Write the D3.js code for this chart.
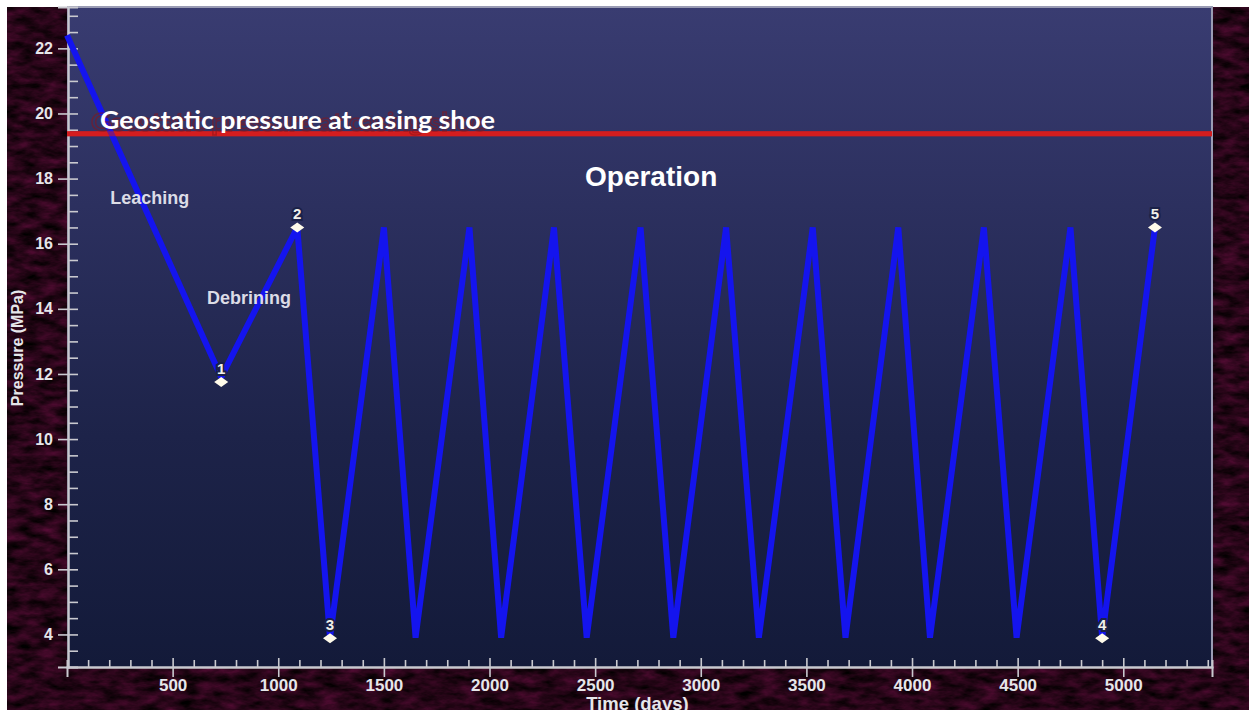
<!DOCTYPE html>
<html><head><meta charset="utf-8">
<script src="https://cdn.jsdelivr.net/npm/d3@7/dist/d3.min.js"></script>
<style>
html,body{margin:0;padding:0;background:#fff;overflow:hidden}
svg{display:block}
text{font-family:"Liberation Sans",Arial,sans-serif;font-weight:bold}
</style></head><body>
<svg id="chart" width="1249" height="710"></svg>
<script>
// Cavern pressure history: leaching, debrining, then cyclic gas operation
const timeDays = [0, 730, 1090, 1245, 1500, 1650, 1905, 2055, 2305, 2460, 2715, 2870,
  3120, 3275, 3530, 3685, 3935, 4085, 4340, 4495, 4750, 4900, 5150];
const pressureMPa = [22.4, 11.9, 16.5, 3.9, 16.5, 3.9, 16.5, 3.9, 16.5, 3.9, 16.5, 3.9,
  16.5, 3.9, 16.5, 3.9, 16.5, 3.9, 16.5, 3.9, 16.5, 3.9, 16.5];

// numbered stage markers
const markerLabels = ["1", "2", "3", "4", "5"];
const markerDays = [730, 1090, 1245, 4900, 5150];
const markerPressure = [11.75, 16.5, 3.88, 3.88, 16.5];

const geostaticPressure = 19.38;
const geostaticLabel = "Geostatic pressure at casing shoe";
const phaseLabels = ["Leaching", "Debrining", "Operation"];

const xMajorTicks = [500, 1000, 1500, 2000, 2500, 3000, 3500, 4000, 4500, 5000];
const yMajorTicks = [4, 6, 8, 10, 12, 14, 16, 18, 20, 22];
const xTitle = "Time (days)";
const yTitle = "Pressure (MPa)";

const W = 1249, H = 710;
const plot = {left: 67, right: 1212, top: 7, bottom: 667};

const svg = d3.select("#chart");
const defs = svg.append("defs");

// mottled dark maroon backdrop
const f = defs.append("filter").attr("id", "grain")
  .attr("x", 0).attr("y", 0).attr("width", "100%").attr("height", "100%")
  .attr("color-interpolation-filters", "sRGB");
f.append("feTurbulence").attr("type", "fractalNoise")
  .attr("baseFrequency", "0.05 0.12").attr("numOctaves", 4).attr("seed", 7);
f.append("feColorMatrix").attr("type", "matrix")
  .attr("values", "0.42 0 0 0 -0.06  0.06 0 0 0 -0.01  0.27 0 0 0 -0.045  0 0 0 0 1");

const grad = defs.append("linearGradient").attr("id", "plotBg")
  .attr("x1", 0).attr("y1", 0).attr("x2", 0).attr("y2", 1);
[[0, "#393c71"], [0.3, "#2c305f"], [0.65, "#1d2349"], [1, "#131a39"]]
  .forEach(([o, c]) => grad.append("stop").attr("offset", o).attr("stop-color", c));

svg.append("rect").attr("width", W).attr("height", H).attr("fill", "#ffffff");
svg.append("rect").attr("x", 7).attr("y", 7).attr("width", W - 7).attr("height", H - 7)
  .attr("fill", "#2a0a1c").attr("filter", "url(#grain)");

const x = d3.scaleLinear().domain([0, 5420]).range([plot.left, plot.right]);
const y = d3.scaleLinear().domain([3, 23.27]).range([plot.bottom, plot.top]);

svg.append("rect")
  .attr("x", x(0)).attr("y", y(23.27))
  .attr("width", x(5420) - x(0)).attr("height", y(3) - y(23.27))
  .attr("fill", "url(#plotBg)");

// frame on top and right
svg.append("path")
  .attr("d", `M${x(0)},${y(23.27)}H${x(5420)}V${y(3)}`)
  .attr("fill", "none").attr("stroke", "#9a9cb4").attr("stroke-width", 2);

// ---- axes ----
const axisColor = "#c9c9cf";
const yMinor = d3.range(3.5, 23.01, 0.5).filter(v => !yMajorTicks.includes(v));
const xMinor = d3.range(100, 5401, 100).filter(v => !xMajorTicks.includes(v));

const gyMinor = svg.append("g").attr("transform", `translate(${x(0) + 1},0)`)
  .call(d3.axisLeft(y).tickValues(yMinor).tickSize(-10).tickFormat(""));
const gy = svg.append("g").attr("transform", `translate(${x(0) + 1},0)`)
  .call(d3.axisLeft(y).tickValues(yMajorTicks).tickSize(10).tickPadding(5)
    .tickFormat(d3.format("d")));
gy.selectAll(".tick line").attr("x1", 10);

const gxMinor = svg.append("g").attr("transform", `translate(0,${y(3)})`)
  .call(d3.axisBottom(x).tickValues(xMinor).tickSize(-7).tickFormat(""));
const gx = svg.append("g").attr("transform", `translate(0,${y(3)})`)
  .call(d3.axisBottom(x).tickValues(xMajorTicks).tickSize(10).tickPadding(2)
    .tickFormat(d3.format("d")));
gx.selectAll(".tick line").attr("y1", -9);

[gy, gyMinor, gx, gxMinor].forEach(g => {
  g.select(".domain").attr("stroke", axisColor).attr("stroke-width", 2);
  g.selectAll(".tick line").attr("stroke", axisColor).attr("stroke-width", 1.6);
  g.selectAll(".tick text").attr("fill", "#e6e6ea")
    .style("font-family", '"Liberation Sans", Arial, sans-serif').style("font-weight", "bold");
});
gy.selectAll(".tick text").style("font-size", "16px");
gx.selectAll(".tick text").style("font-size", "17px");

svg.append("text").attr("x", x(2700)).attr("y", 710).attr("text-anchor", "middle")
  .attr("fill", "#e6e6ea").style("font-size", "18.5px").text(xTitle);
svg.append("text")
  .attr("transform", `translate(23,${y(12.8)}) rotate(-90)`)
  .attr("text-anchor", "middle").attr("fill", "#e6e6ea")
  .style("font-size", "16px").text(yTitle);

// ---- geostatic pressure line ----
svg.append("line")
  .attr("x1", x(0)).attr("x2", x(5420))
  .attr("y1", y(geostaticPressure)).attr("y2", y(geostaticPressure))
  .attr("stroke", "#d41d1f").attr("stroke-width", 5);

// ---- pressure path ----
const series = timeDays.map((d, i) => [d, pressureMPa[i]]);
svg.append("path").datum(series)
  .attr("d", d3.line().x(d => x(d[0])).y(d => y(d[1])))
  .attr("fill", "none").attr("stroke", "#1414ee").attr("stroke-width", 6)
  .attr("stroke-linejoin", "bevel");

// geostatic line redrawn over the path where they cross
svg.append("line")
  .attr("x1", x(0)).attr("x2", x(5420))
  .attr("y1", y(geostaticPressure)).attr("y2", y(geostaticPressure))
  .attr("stroke", "#d41d1f").attr("stroke-width", 5).attr("opacity", 0.55);

// ---- stage markers ----
const markers = markerLabels.map((l, i) => ({label: l, d: markerDays[i], p: markerPressure[i]}));
const mg = svg.append("g").selectAll("g").data(markers).join("g")
  .attr("transform", d => `translate(${x(d.d)},${y(d.p)})`);
mg.append("text").attr("y", -8).attr("text-anchor", "middle")
  .attr("fill", "#f1f0ea").attr("stroke", "#1b2147").attr("stroke-width", 4)
  .attr("paint-order", "stroke").style("font-size", "15px").text(d => d.label);
mg.append("path").attr("d", "M-7,0L0,-5L7,0L0,5Z").attr("fill", "#fffbea");

// ---- phase annotations ----
svg.append("text").attr("x", x(205)).attr("y", y(17.22)).attr("fill", "#dcdce6")
  .style("font-size", "18px").text(phaseLabels[0]);
svg.append("text").attr("x", x(663)).attr("y", y(14.15)).attr("fill", "#dcdce6")
  .style("font-size", "18px").text(phaseLabels[1]);
svg.append("text").attr("x", x(2765)).attr("y", y(17.77)).attr("text-anchor", "middle")
  .attr("fill", "#ffffff").style("font-size", "28px").text(phaseLabels[2]);

const geoText = (dx, dy) => svg.append("text")
  .attr("x", x(156) + dx).attr("y", y(19.52) + dy)
  .attr("textLength", 395).attr("lengthAdjust", "spacingAndGlyphs")
  .style("font-family", "Lato, 'Open Sans', sans-serif").style("font-weight", 700)
  .style("font-size", "25px").text(geostaticLabel);
geoText(-9, 2).attr("fill", "none").attr("stroke", "#8a1419")
  .attr("stroke-width", 1.5).attr("opacity", 0.55);
geoText(0, 0).attr("fill", "#ffffff");
</script>
</body></html>
